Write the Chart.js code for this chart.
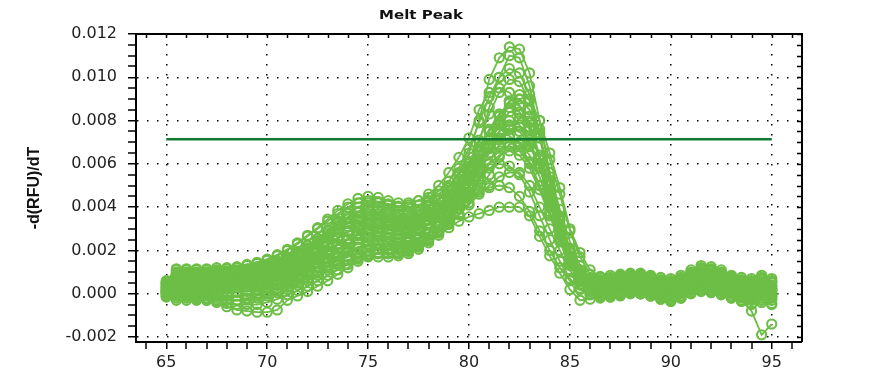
<!DOCTYPE html>
<html>
<head>
<meta charset="utf-8">
<title>Melt Peak</title>
<script src="https://cdn.jsdelivr.net/npm/chart.js@4.4.1/dist/chart.umd.min.js"></script>
<style>
  html, body { margin: 0; padding: 0; background: #fff; }
  #wrap { width: 886px; height: 378px; }
</style>
</head>
<body>
<div id="wrap"><canvas id="chartCanvas" width="886" height="378"></canvas></div>
<script>
// Temperatures (°C), one reading every 0.5 degree
const temps = [
  65, 65.5, 66, 66.5, 67, 67.5, 68, 68.5, 69, 69.5,
  70, 70.5, 71, 71.5, 72, 72.5, 73, 73.5, 74, 74.5,
  75, 75.5, 76, 76.5, 77, 77.5, 78, 78.5, 79, 79.5,
  80, 80.5, 81, 81.5, 82, 82.5, 83, 83.5, 84, 84.5,
  85, 85.5, 86, 86.5, 87, 87.5, 88, 88.5, 89, 89.5,
  90, 90.5, 91, 91.5, 92, 92.5, 93, 93.5, 94, 94.5,
  95
];

// -d(RFU)/dT per well, in units of 0.001
const well01 = [
  0.5, 1.0, 1.0, 1.0, 1.0, 1.05, 1.05, 1.1, 1.15, 1.25,
  1.35, 1.5, 1.7, 1.95, 2.25, 2.55, 2.9, 3.25, 3.55, 3.8,
  4.0, 4.0, 3.9, 3.8, 3.8, 3.9, 4.1, 4.4, 4.9, 5.6,
  6.5, 8.0, 9.9, 10.9, 11.4, 11.3, 10.2, 8.0, 5.6, 3.6,
  2.0, 1.0, 0.6, 0.55, 0.6, 0.7, 0.75, 0.75, 0.65, 0.5,
  0.45, 0.6, 0.85, 1.0, 0.95, 0.8, 0.6, 0.5, 0.45, 0.55,
  0.4
];
const well02 = [
  0.3, 0.85, 0.85, 0.85, 0.85, 0.9, 0.9, 0.95, 1.0, 1.05,
  1.15, 1.3, 1.5, 1.7, 1.95, 2.25, 2.55, 2.85, 3.1, 3.35,
  3.5, 3.5, 3.4, 3.35, 3.35, 3.45, 3.65, 3.95, 4.4, 5.0,
  5.8, 7.0, 8.6, 10.0, 11.0, 10.9, 9.6, 7.4, 5.1, 3.2,
  1.7, 0.8, 0.4, 0.35, 0.4, 0.5, 0.55, 0.55, 0.45, 0.3,
  0.2, 0.4, 0.65, 0.8, 0.75, 0.6, 0.4, 0.3, 0.25, 0.35,
  0.2
];
const well03 = [
  0.6, 1.15, 1.15, 1.15, 1.15, 1.2, 1.2, 1.25, 1.35, 1.45,
  1.6, 1.8, 2.05, 2.35, 2.7, 3.05, 3.45, 3.85, 4.15, 4.4,
  4.5, 4.45, 4.3, 4.2, 4.2, 4.3, 4.45, 4.75, 5.2, 5.8,
  6.7, 7.9, 9.1, 10.0, 10.4, 10.2, 9.2, 7.4, 5.4, 3.5,
  2.0, 1.1, 0.75, 0.75, 0.85, 0.9, 0.95, 0.95, 0.85, 0.75,
  0.7, 0.85, 1.1, 1.3, 1.25, 1.1, 0.85, 0.75, 0.7, 0.85,
  0.7
];
const well04 = [
  0.55, 1.1, 1.1, 1.1, 1.1, 1.1, 1.15, 1.2, 1.3, 1.4,
  1.55, 1.75, 2.0, 2.3, 2.65, 3.0, 3.35, 3.7, 4.0, 4.2,
  4.3, 4.25, 4.15, 4.05, 4.1, 4.3, 4.6, 5.0, 5.6, 6.3,
  7.2, 8.5, 9.3, 9.5, 9.3, 8.7, 7.7, 6.2, 4.5, 2.9,
  1.6, 0.9, 0.6, 0.6, 0.7, 0.8, 0.85, 0.85, 0.75, 0.6,
  0.55, 0.7, 0.95, 1.15, 1.1, 0.95, 0.75, 0.6, 0.55, 0.7,
  0.55
];
const well05 = [
  0.4, 0.9, 0.9, 0.9, 0.95, 0.95, 1.0, 1.0, 1.05, 1.15,
  1.25, 1.4, 1.6, 1.85, 2.1, 2.4, 2.7, 3.0, 3.3, 3.55,
  3.7, 3.7, 3.6, 3.5, 3.5, 3.6, 3.8, 4.1, 4.6, 5.2,
  6.0, 7.1, 8.3, 9.3, 9.9, 9.8, 8.9, 7.2, 5.2, 3.4,
  1.9, 0.95, 0.5, 0.45, 0.5, 0.6, 0.65, 0.65, 0.55, 0.4,
  0.3, 0.5, 0.75, 0.9, 0.85, 0.7, 0.5, 0.4, 0.35, 0.45,
  0.3
];
const well06 = [
  0.2, 0.5, 0.5, 0.5, 0.5, 0.55, 0.55, 0.6, 0.65, 0.7,
  0.8, 0.95, 1.1, 1.3, 1.5, 1.75, 2.0, 2.3, 2.55, 2.8,
  3.0, 3.0, 2.95, 2.9, 2.95, 3.05, 3.25, 3.55, 3.95, 4.4,
  5.0, 5.8, 6.8, 8.0, 8.9, 9.2, 9.0, 8.0, 6.5, 4.9,
  3.0, 1.9, 1.1, 0.8, 0.6, 0.5, 0.5, 0.45, 0.35, 0.2,
  0.1, 0.25, 0.5, 0.65, 0.6, 0.45, 0.3, 0.2, 0.1, 0.25,
  0.05
];
const well07 = [
  0.3, 0.7, 0.7, 0.7, 0.7, 0.75, 0.75, 0.8, 0.85, 0.9,
  1.0, 1.15, 1.3, 1.5, 1.75, 2.0, 2.3, 2.6, 2.9, 3.15,
  3.3, 3.3, 3.2, 3.1, 3.1, 3.2, 3.4, 3.7, 4.15, 4.7,
  5.4, 6.4, 7.5, 8.3, 8.8, 8.7, 7.9, 6.4, 4.7, 3.0,
  1.6, 0.75, 0.3, 0.15, 0.2, 0.3, 0.35, 0.35, 0.25, 0.1,
  0.0, 0.2, 0.45, 0.6, 0.55, 0.4, 0.2, 0.1, 0.05, 0.15,
  0.0
];
const well08 = [
  0.1, 0.3, 0.3, 0.3, 0.3, 0.3, 0.35, 0.4, 0.45, 0.5,
  0.6, 0.75, 0.9, 1.1, 1.3, 1.55, 1.8, 2.05, 2.3, 2.5,
  2.6, 2.65, 2.6, 2.55, 2.6, 2.75, 3.0, 3.35, 3.8, 4.35,
  5.0, 5.9, 6.9, 7.8, 8.4, 8.3, 7.6, 6.3, 4.7, 3.1,
  1.6, 0.7, 0.15, -0.05, 0.0, 0.1, 0.15, 0.15, 0.05, -0.1,
  -0.2, 0.0, 0.25, 0.4, 0.35, 0.2, 0.0, -0.1, -0.2, -0.05,
  -0.2
];
const well09 = [
  0.45, 0.95, 0.95, 0.95, 1.0, 1.0, 1.0, 1.05, 1.1, 1.2,
  1.3, 1.45, 1.65, 1.9, 2.2, 2.55, 2.95, 3.35, 3.7, 4.0,
  4.2, 4.2, 4.1, 4.0, 4.0, 4.1, 4.3, 4.6, 5.0, 5.5,
  6.1, 6.8, 7.5, 7.9, 8.0, 7.8, 7.1, 5.9, 4.4, 2.9,
  1.6, 0.95, 0.7, 0.65, 0.75, 0.85, 0.9, 0.9, 0.8, 0.65,
  0.6, 0.75, 1.0, 1.2, 1.15, 1.0, 0.8, 0.65, 0.6, 0.75,
  0.6
];
const well10 = [
  0.0, 0.2, 0.2, 0.2, 0.2, 0.2, 0.25, 0.3, 0.35, 0.4,
  0.5, 0.65, 0.8, 1.0, 1.2, 1.4, 1.65, 1.9, 2.1, 2.3,
  2.4, 2.45, 2.4, 2.4, 2.45, 2.6, 2.85, 3.2, 3.65, 4.2,
  4.9, 5.7, 6.5, 7.2, 7.6, 7.5, 6.9, 5.8, 4.4, 2.9,
  1.5, 0.65, 0.15, 0.0, 0.05, 0.15, 0.25, 0.25, 0.15, 0.0,
  -0.1, 0.1, 0.35, 0.5, 0.45, 0.3, 0.1, 0.0, -0.1, 0.05,
  -0.1
];
const well11 = [
  0.1, 0.0, -0.1, -0.2, -0.3, -0.4, -0.6, -0.75, -0.8, -0.85,
  -0.85, -0.75, -0.3, -0.1, 0.1, 0.35, 0.6, 0.9, 1.2, 1.5,
  1.75, 1.9, 2.0, 2.05, 2.15, 2.3, 2.55, 2.85, 3.25, 3.7,
  4.2, 4.8, 5.5, 6.3, 6.9, 7.0, 6.8, 6.0, 4.8, 3.4,
  2.1, 1.1, 0.3, -0.05, -0.15, -0.1, 0.0, 0.0, -0.1, -0.25,
  -0.35, -0.2, 0.05, 0.15, 0.1, 0.0, -0.15, -0.3, -0.8, -1.9,
  -1.4
];
const well12 = [
  0.25, 0.6, 0.6, 0.6, 0.6, 0.65, 0.65, 0.7, 0.75, 0.8,
  0.9, 1.05, 1.2, 1.4, 1.65, 1.95, 2.25, 2.55, 2.85, 3.05,
  3.2, 3.2, 3.15, 3.1, 3.15, 3.3, 3.55, 3.9, 4.35, 4.9,
  5.5, 6.1, 6.5, 6.8, 6.8, 6.6, 6.0, 5.0, 3.8, 2.6,
  1.4, 0.75, 0.4, 0.35, 0.4, 0.5, 0.55, 0.55, 0.45, 0.3,
  0.2, 0.4, 0.65, 0.8, 0.75, 0.6, 0.45, 0.3, 0.25, 0.35,
  0.2
];
const well13 = [
  -0.1, 0.0, 0.0, -0.05, -0.05, -0.1, -0.1, -0.1, -0.05, 0.0,
  0.1, 0.25, 0.45, 0.65, 0.85, 1.05, 1.3, 1.5, 1.7, 1.85,
  2.0, 2.05, 2.05, 2.05, 2.1, 2.25, 2.5, 2.8, 3.2, 3.65,
  4.1, 4.6, 5.0, 5.4, 5.6, 5.6, 5.0, 4.0, 3.0, 2.0,
  1.1, 0.4, -0.05, -0.2, -0.15, -0.05, 0.05, 0.0, -0.1, -0.25,
  -0.35, -0.2, 0.05, 0.2, 0.15, 0.0, -0.2, -0.35, -0.45, -0.3,
  -0.45
];
const well14 = [
  -0.15, -0.2, -0.2, -0.25, -0.25, -0.3, -0.3, -0.3, -0.25, -0.2,
  -0.1, 0.05, 0.2, 0.4, 0.6, 0.85, 1.1, 1.35, 1.55, 1.7,
  1.8, 1.85, 1.85, 1.85, 1.95, 2.15, 2.45, 2.85, 3.3, 3.9,
  4.6, 5.3, 5.8, 6.0, 5.9, 5.5, 4.7, 3.6, 2.5, 1.5,
  0.7, 0.2, 0.0, 0.05, 0.15, 0.3, 0.4, 0.35, 0.25, 0.1,
  0.0, 0.15, 0.4, 0.55, 0.5, 0.35, 0.15, 0.05, 0.0, 0.15,
  0.0
];
const well15 = [
  0.0, -0.1, -0.1, -0.15, -0.2, -0.3, -0.45, -0.5, -0.5, -0.5,
  -0.4, -0.25, -0.05, 0.15, 0.35, 0.6, 0.85, 1.1, 1.35, 1.6,
  1.8, 1.85, 1.85, 1.9, 2.0, 2.2, 2.5, 2.9, 3.4, 3.9,
  4.4, 4.7, 4.9, 5.0, 4.9, 4.5, 3.8, 2.9, 2.0, 1.2,
  0.6, 0.25, 0.15, 0.2, 0.3, 0.4, 0.45, 0.4, 0.3, 0.2,
  0.1, 0.25, 0.5, 0.65, 0.6, 0.45, 0.3, 0.2, 0.15, 0.3,
  0.15
];
const well16 = [
  -0.1, -0.3, -0.3, -0.3, -0.3, -0.3, -0.3, -0.3, -0.2, -0.1,
  0.0, 0.15, 0.3, 0.5, 0.7, 0.95, 1.2, 1.4, 1.55, 1.65,
  1.7, 1.7, 1.7, 1.75, 1.85, 2.05, 2.35, 2.7, 3.05, 3.35,
  3.55, 3.7, 3.85, 4.0, 4.0, 4.0, 3.6, 2.65, 1.75, 0.95,
  0.2, -0.3, -0.25, -0.15, -0.05, 0.0, 0.05, 0.0, -0.1, -0.2,
  -0.35, -0.2, 0.0, 0.1, 0.05, -0.05, -0.2, -0.35, -0.5, -0.4,
  -0.5
];
const well17 = [
  0.15, 0.4, 0.4, 0.4, 0.4, 0.45, 0.45, 0.5, 0.55, 0.6,
  0.7, 0.85, 1.0, 1.2, 1.45, 1.7, 1.95, 2.25, 2.5, 2.7,
  2.8, 2.85, 2.8, 2.75, 2.8, 2.95, 3.2, 3.55, 4.0, 4.55,
  5.2, 6.0, 6.7, 7.1, 7.2, 7.0, 6.4, 5.4, 4.1, 2.7,
  1.5, 0.8, 0.55, 0.5, 0.55, 0.65, 0.7, 0.7, 0.6, 0.45,
  0.35, 0.55, 0.8, 0.95, 0.9, 0.75, 0.6, 0.45, 0.4, 0.5,
  0.35
];
const well18 = [
  0.05, 0.1, 0.1, 0.05, 0.05, 0.05, 0.05, 0.1, 0.15, 0.2,
  0.3, 0.45, 0.6, 0.8, 1.0, 1.25, 1.5, 1.75, 2.0, 2.15,
  2.25, 2.3, 2.3, 2.3, 2.4, 2.55, 2.8, 3.1, 3.5, 3.95,
  4.5, 5.2, 6.0, 6.9, 7.7, 8.1, 8.2, 7.6, 6.2, 4.6,
  2.9, 1.7, 0.9, 0.45, 0.3, 0.3, 0.35, 0.3, 0.2, 0.05,
  -0.1, 0.05, 0.3, 0.45, 0.4, 0.25, 0.05, -0.05, -0.15, 0.0,
  -0.15
];
const well19 = [
  0.35, 0.75, 0.75, 0.75, 0.8, 0.8, 0.85, 0.9, 0.95, 1.0,
  1.1, 1.25, 1.45, 1.7, 1.95, 2.25, 2.6, 2.95, 3.25, 3.45,
  3.6, 3.6, 3.5, 3.4, 3.4, 3.5, 3.7, 4.0, 4.45, 5.0,
  5.7, 6.6, 7.6, 8.3, 8.6, 8.4, 7.6, 6.2, 4.6, 3.0,
  1.7, 0.85, 0.45, 0.4, 0.45, 0.55, 0.6, 0.6, 0.5, 0.35,
  0.25, 0.45, 0.7, 0.85, 0.8, 0.65, 0.5, 0.35, 0.3, 0.4,
  0.25
];
const well20 = [
  0.1, 0.35, 0.35, 0.35, 0.35, 0.35, 0.4, 0.45, 0.5, 0.55,
  0.65, 0.8, 0.95, 1.15, 1.4, 1.65, 1.95, 2.25, 2.5, 2.75,
  2.9, 2.9, 2.85, 2.8, 2.85, 3.0, 3.25, 3.6, 4.05, 4.6,
  5.3, 6.1, 6.9, 7.5, 7.8, 7.7, 7.0, 5.8, 4.3, 2.8,
  1.5, 0.7, 0.25, 0.1, 0.15, 0.25, 0.3, 0.3, 0.2, 0.05,
  -0.05, 0.15, 0.4, 0.55, 0.5, 0.35, 0.15, 0.05, -0.05, 0.1,
  -0.05
];
const well21 = [
  0.2, 0.55, 0.55, 0.55, 0.55, 0.6, 0.6, 0.65, 0.7, 0.75,
  0.85, 1.0, 1.15, 1.35, 1.6, 1.9, 2.2, 2.55, 2.85, 3.15,
  3.4, 3.4, 3.3, 3.25, 3.25, 3.35, 3.55, 3.85, 4.25, 4.8,
  5.4, 6.2, 7.2, 8.2, 8.9, 9.0, 8.5, 7.2, 5.6, 3.9,
  2.4, 1.3, 0.7, 0.5, 0.45, 0.5, 0.55, 0.5, 0.4, 0.25,
  0.15, 0.3, 0.55, 0.7, 0.65, 0.5, 0.35, 0.25, 0.2, 0.3,
  0.15
];
const well22 = [
  0.0, 0.05, 0.05, 0.05, 0.0, 0.0, 0.0, 0.05, 0.1, 0.15,
  0.25, 0.4, 0.55, 0.75, 0.95, 1.2, 1.45, 1.7, 1.95, 2.15,
  2.3, 2.35, 2.3, 2.3, 2.35, 2.5, 2.75, 3.1, 3.55, 4.1,
  4.7, 5.4, 6.0, 6.4, 6.6, 6.4, 5.8, 4.8, 3.6, 2.4,
  1.3, 0.55, 0.1, -0.1, -0.05, 0.05, 0.1, 0.1, 0.0, -0.15,
  -0.25, -0.1, 0.15, 0.3, 0.25, 0.1, -0.1, -0.2, -0.3, -0.2,
  -0.3
];
const well23 = [
  0.5, 0.85, 0.85, 0.9, 0.9, 0.9, 0.95, 1.0, 1.05, 1.1,
  1.2, 1.35, 1.55, 1.8, 2.1, 2.45, 2.8, 3.15, 3.45, 3.75,
  3.9, 3.9, 3.8, 3.7, 3.7, 3.8, 4.0, 4.3, 4.75, 5.3,
  5.9, 6.6, 7.1, 7.4, 7.3, 6.9, 6.1, 5.0, 3.7, 2.5,
  1.4, 0.8, 0.55, 0.55, 0.65, 0.75, 0.8, 0.8, 0.7, 0.55,
  0.5, 0.65, 0.9, 1.1, 1.05, 0.9, 0.7, 0.55, 0.5, 0.65,
  0.5
];

const wells = [
  well01, well02, well03, well04, well05, well06, well07, well08, well09, well10, well11, well12,
  well13, well14, well15, well16, well17, well18, well19, well20, well21, well22, well23
];

// Threshold (horizontal line) across the melt range
const thresholdX = [65, 95];
const thresholdY = 0.00714;

// Axis ticks: x every 1 °C (labels every 5), y every 0.0005 (labels every 0.002), y in units of 0.001
const xTickValues = [64, 65, 66, 67, 68, 69, 70, 71, 72, 73, 74, 75, 76, 77, 78, 79, 80,
  81, 82, 83, 84, 85, 86, 87, 88, 89, 90, 91, 92, 93, 94, 95, 96];
const yTickValues = [-2, -1.5, -1, -0.5, 0, 0.5, 1, 1.5, 2, 2.5, 3, 3.5, 4, 4.5, 5, 5.5,
  6, 6.5, 7, 7.5, 8, 8.5, 9, 9.5, 10, 10.5, 11, 11.5, 12];

const UNIT = 0.001;
const lineGreen = '#6dbe46';
const thresholdGreen = '#127a30';

function isMajorX(v) { return v % 5 === 0; }
function isMajorY(v) { return Math.round(v * 10000) % 20 === 0; }

const datasets = wells.map((w, i) => ({
  label: 'Well ' + (i + 1),
  data: temps.map((t, k) => ({ x: t, y: w[k] * UNIT })),
  borderColor: lineGreen,
  borderWidth: 1.8,
  backgroundColor: 'rgba(0,0,0,0)',
  pointRadius: 4.6,
  pointBorderWidth: 2.1,
  pointBorderColor: lineGreen,
  pointBackgroundColor: 'rgba(0,0,0,0)',
  tension: 0,
  fill: false
}));

datasets.push({
  label: 'Threshold',
  data: thresholdX.map(t => ({ x: t, y: thresholdY })),
  borderColor: thresholdGreen,
  borderWidth: 2.5,
  pointRadius: 0,
  fill: false,
  order: -1
});

// Title, top/right frame with inward ticks
const framePlugin = {
  id: 'frame',
  afterDraw(chart) {
    const { ctx, chartArea: a, scales } = chart;
    ctx.save();
    ctx.strokeStyle = '#000';
    ctx.lineWidth = 2;
    ctx.beginPath();
    ctx.moveTo(a.left, a.top);
    ctx.lineTo(a.right, a.top);
    ctx.lineTo(a.right, a.bottom);
    ctx.stroke();
    ctx.lineWidth = 1.5;
    ctx.beginPath();
    xTickValues.forEach(v => {
      const px = Math.round(scales.x.getPixelForValue(v)) + 0.5;
      ctx.moveTo(px, a.top);
      ctx.lineTo(px, a.top + 4);
    });
    yTickValues.forEach(v => {
      const py = Math.round(scales.y.getPixelForValue(v * UNIT)) + 0.5;
      ctx.moveTo(a.right, py);
      ctx.lineTo(a.right - 5, py);
    });
    ctx.stroke();

    ctx.fillStyle = '#111';
    ctx.font = 'bold 12.5px "DejaVu Sans"';
    ctx.textAlign = 'center';
    ctx.textBaseline = 'middle';
    ctx.translate(421, 16);
    ctx.scale(1.2, 1);
    ctx.fillText('Melt Peak', 0, 0);
    ctx.restore();
  }
};

const ctx = document.getElementById('chartCanvas').getContext('2d');
new Chart(ctx, {
  type: 'line',
  data: { datasets: datasets },
  plugins: [framePlugin],
  options: {
    responsive: false,
    animation: false,
    devicePixelRatio: 1,
    layout: { padding: { top: 34, right: 84, left: 0, bottom: 0 } },
    plugins: {
      legend: { display: false },
      title: { display: false },
      tooltip: { enabled: false }
    },
    scales: {
      x: {
        type: 'linear',
        min: 63.5,
        max: 96.5,
        afterBuildTicks: axis => { axis.ticks = xTickValues.map(v => ({ value: v })); },
        afterFit: scale => { scale.height = 36; },
        ticks: {
          autoSkip: false,
          maxRotation: 0,
          padding: 4,
          color: '#222',
          font: { family: 'DejaVu Sans', size: 16 },
          callback: v => isMajorX(v) ? String(v) : ''
        },
        grid: {
          color: c => (c.tick && isMajorX(c.tick.value)) ? '#000' : 'rgba(0,0,0,0)',
          lineWidth: c => (c.tick && isMajorX(c.tick.value)) ? 1.5 : 0,
          tickColor: '#000',
          tickWidth: 1.5,
          tickLength: 7
        },
        border: { display: true, color: '#000', width: 2, dash: [1.5, 8.5] }
      },
      y: {
        type: 'linear',
        min: -0.00223,
        max: 0.012,
        afterBuildTicks: axis => { axis.ticks = yTickValues.map(v => ({ value: v * UNIT })); },
        afterFit: scale => { scale.width = 136; },
        ticks: {
          autoSkip: false,
          padding: 11,
          color: '#222',
          font: { family: 'DejaVu Sans', size: 16 },
          callback: v => isMajorY(v) ? v.toFixed(3) : ''
        },
        grid: {
          color: c => (c.tick && isMajorY(c.tick.value)) ? '#000' : 'rgba(0,0,0,0)',
          lineWidth: c => (c.tick && isMajorY(c.tick.value)) ? 1.5 : 0,
          tickColor: '#000',
          tickWidth: 1.5,
          tickLength: 8
        },
        border: { display: true, color: '#000', width: 2, dash: [1.5, 8.5] },
        title: {
          display: true,
          text: '-d(RFU)/dT',
          color: '#111',
          font: { family: 'Liberation Sans', weight: 'bold', size: 16 },
          padding: { top: 25, bottom: 0 }
        }
      }
    }
  }
});
</script>
</body>
</html>
